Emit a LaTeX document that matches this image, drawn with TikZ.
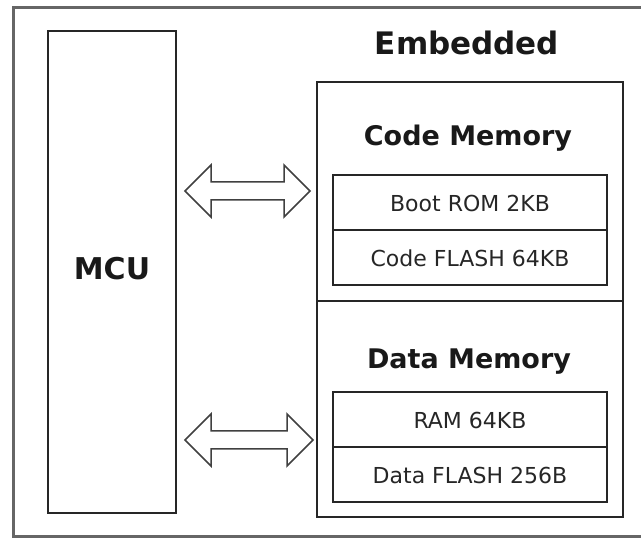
\documentclass[tikz,border=0pt]{standalone}
\usepackage{fontspec}
\setmainfont{DejaVu Sans}
\tikzset{
  block/.style={draw=black!85, line width=2pt, inner sep=0pt},
  cell/.style={block, minimum width=274pt, font=\fontsize{22}{22}\selectfont, text=black!85},
  title/.style={font=\bfseries\fontsize{27}{27}\selectfont, text=black!90, inner sep=0pt},
  bus/.style={draw=black!75, line width=1.5pt, fill=white, line join=miter}
}
\newcommand{\busarrow}[2]{%
  \draw[bus] (#1) -- ++(26,-26) -- ++(0,17) -- ++(#2,0) -- ++(0,-17) -- ++(26,26)
    -- ++(-26,26) -- ++(0,-17) -- ++(-#2,0) -- ++(0,17) -- cycle;}
\begin{document}
\begin{tikzpicture}[x=1pt, y=-1pt]
    \useasboundingbox (0,0) rectangle (641,540);
    \draw[black!60, line width=3pt] (645,8) -- (13,8) -- (13,537) -- (645,537);
    \node[block, minimum width=128pt, minimum height=482pt] (mcu) at (112,272) {};
    \node[title, font=\bfseries\fontsize{30}{30}\selectfont] (mcutext) at (112,269) {MCU};
    \node[title, font=\bfseries\fontsize{31}{31}\selectfont] (embedded) at (467,43) {Embedded};
    \node[block, minimum width=306pt, minimum height=219pt] (codemem) at (470,191.5) {};
    \node[block, minimum width=306pt, minimum height=216pt] (datamem) at (470,409) {};
    \node[title] (codetitle) at (468,138) {Code Memory};
    \node[title] (datatitle) at (469,362) {Data Memory};
    \node[cell, minimum height=55pt] (bootrom) at (470,203) {Boot ROM 2KB};
    \node[cell, minimum height=55pt] (codeflash) at (470,258) {Code FLASH 64KB};
    \node[cell, minimum height=55pt] (ram) at (470,420) {RAM 64KB};
    \node[cell, minimum height=55pt] (dataflash) at (470,475) {Data FLASH 256B};
    \coordinate (codebus) at (185,191);
    \coordinate (databus) at (185,440);
    \busarrow{codebus}{73}
    \busarrow{databus}{76}
\end{tikzpicture}
\end{document}
